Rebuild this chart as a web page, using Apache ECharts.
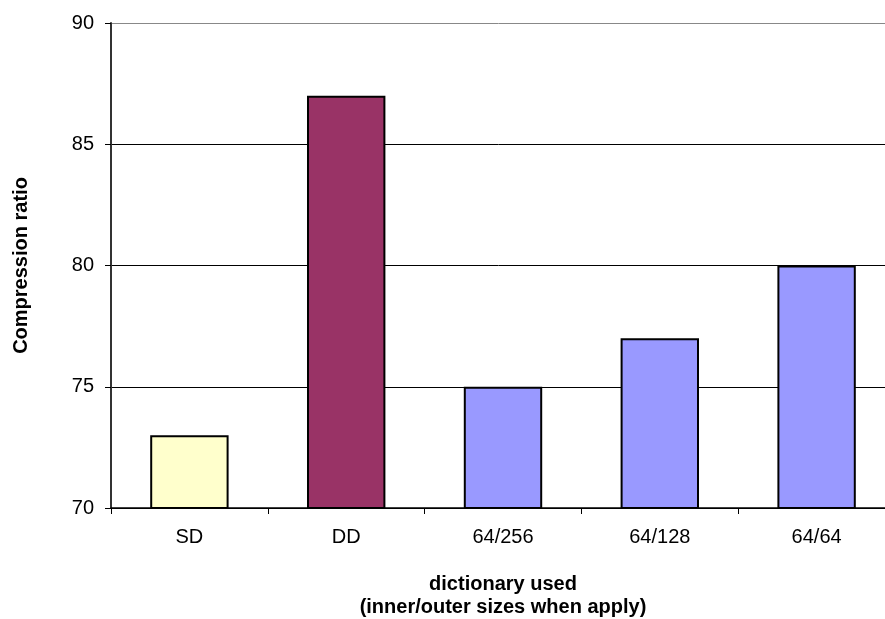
<!DOCTYPE html>
<html>
<head>
<meta charset="utf-8">
<script src="https://cdn.jsdelivr.net/npm/echarts@6/dist/echarts.min.js"></script>
<style>
  html, body { margin: 0; padding: 0; background: #fff; }
  #chart { width: 885px; height: 619px; }
</style>
</head>
<body>
<div id="chart"></div>
<script>
// Compression ratio per dictionary configuration
const categories = ['SD', 'DD', '64/256', '64/128', '64/64'];
const ratios = [73, 87, 75, 77, 80];
const barColors = ['#FFFFCC', '#993366', '#9999FF', '#9999FF', '#9999FF'];
const yTicks = [70, 75, 80, 85, 90];

const chart = echarts.init(document.getElementById('chart'), null, { renderer: 'canvas' });

const font = 'Liberation Sans, Arial, sans-serif';

chart.setOption({
  animation: false,
  backgroundColor: '#ffffff',
  grid: {
    left: 111, top: 23, width: 784, height: 485,
    containLabel: false,
    outerBoundsMode: 'none'
  },
  xAxis: {
    type: 'category',
    data: categories,
    boundaryGap: true,
    axisLine: { show: true, lineStyle: { color: '#000', width: 1.5 } },
    axisTick: { show: true, length: 6, lineStyle: { color: '#000', width: 1 } },
    axisLabel: { color: '#000', fontFamily: font, fontSize: 20, margin: 19 },
    name: 'dictionary used\n(inner/outer sizes when apply)',
    nameLocation: 'middle',
    nameGap: 65,
    nameTextStyle: { color: '#000', fontFamily: font, fontSize: 20, fontWeight: 'bold', lineHeight: 23 }
  },
  yAxis: {
    type: 'value',
    min: yTicks[0],
    max: yTicks[yTicks.length - 1],
    interval: 5,
    axisLine: { show: true, lineStyle: { color: '#333', width: 2 } },
    axisTick: { show: true, length: 6, lineStyle: { color: '#000', width: 1 } },
    axisLabel: { color: '#000', fontFamily: font, fontSize: 20, margin: 17 },
    splitLine: { show: true, lineStyle: { color: ['#000', '#000', '#000', '#000', '#888'], width: 1 } },
    name: 'Compression ratio',
    nameLocation: 'middle',
    nameGap: 80,
    nameRotate: 90,
    nameTextStyle: { color: '#000', fontFamily: font, fontSize: 20, fontWeight: 'bold' }
  },
  series: [{
    type: 'bar',
    barWidth: '50%',
    data: ratios.map((v, i) => ({
      value: v,
      itemStyle: { color: barColors[i], borderColor: '#000', borderWidth: 2 }
    }))
  }]
});
</script>
</body>
</html>
